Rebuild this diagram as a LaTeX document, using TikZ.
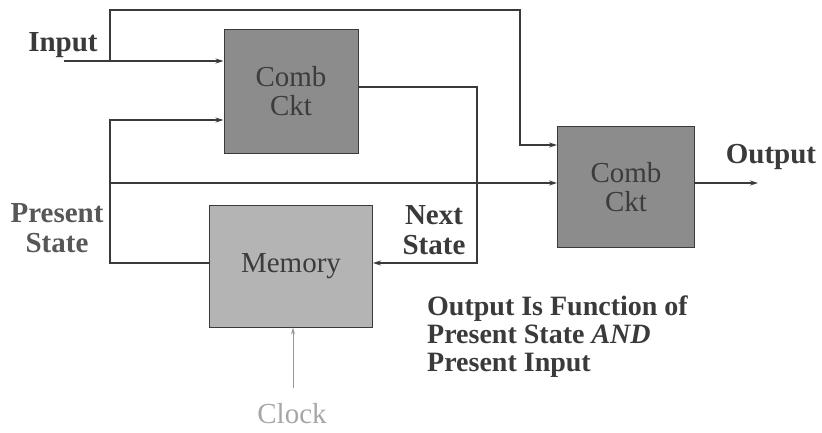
\documentclass[tikz,border=0pt]{standalone}
\usepackage{fontspec}
\setmainfont{Liberation Serif}
\usetikzlibrary{arrows.meta,positioning}

\definecolor{wirecol}{HTML}{3A3A3A}
\definecolor{darkbox}{HTML}{8C8C8C}
\definecolor{lightbox}{HTML}{B4B4B4}
\definecolor{boxtext}{HTML}{3C3C3C}

\begin{document}
\begin{tikzpicture}[
  x=1pt,y=-1pt,
  comb/.style={draw=wirecol,line width=1pt,fill=darkbox,align=center,
               text=boxtext,font=\fontsize{29}{29}\selectfont,inner sep=0pt},
  memo/.style={draw=wirecol,line width=1pt,fill=lightbox,align=center,
               text=boxtext,font=\fontsize{29}{30}\selectfont,inner sep=0pt},
  lbl/.style={align=center,text=wirecol,font=\fontsize{29}{30}\selectfont\bfseries,
              inner sep=0pt},
  arrow/.style={-{Stealth[length=8pt,width=5pt]},line width=1.2pt,draw=wirecol},
  wire/.style={line width=1.2pt,draw=wirecol}
]
\useasboundingbox (0,0) rectangle (822,432);

% blocks
\node[comb,minimum width=134pt,minimum height=124pt] (comb1) at (291,91)
 {Comb\\Ckt};
\node[comb,minimum width=137pt,minimum height=121pt] (comb2) at (626,187)
 {Comb\\Ckt};
\node[memo,minimum width=163pt,minimum height=122pt] (mem) at (291,266)
 {Memory};

% free ends of the wires
\coordinate (in) at (64,61);
\coordinate (tap) at (110,61);
\coordinate (tl) at (110,10);
\coordinate (jog) at (520,145);
\coordinate (ns) at (477,263);
\coordinate (ps) at (110,263);
\coordinate (pstop) at (110,120);
\coordinate (psmid) at (110,183);
\coordinate (out) at (758,183);
\coordinate (clkin) at (293,388);

% wires
\draw[arrow] (in) -- (in -| comb1.west);
\draw[arrow] (tap) -- (tl) -| (jog) -- (jog -| comb2.west);
\draw[arrow] (comb1.east |- 0,87) -| (ns) -- (ns -| mem.east);
\draw[arrow] (ps -| mem.west) -- (ps) -- (pstop) -- (pstop -| comb1.west);
\draw[arrow] (psmid) -- (psmid -| comb2.west);
\draw[arrow] (out -| comb2.east) -- (out);
\draw[-{Stealth[length=7pt,width=4pt]},line width=1pt,draw=gray!80]
 (clkin) -- (clkin |- mem.south);

% labels
\node[lbl] (inlbl) at (63,45) {Input};
\node[lbl] (outlbl) at (771,157) {Output};
\node[lbl] (nslbl) at (434,230) {Next\\State};
\node[lbl,text=wirecol!85] (pslbl) at (57,228) {Present\\State};
\node[lbl,text=gray!70,font=\fontsize{29}{30}\selectfont] (clk) at (292,414) {Clock};
\node[lbl,align=left,anchor=north west,font=\fontsize{28}{28}\selectfont\bfseries]
 (note) at (427,296)
 {Output Is Function of\\Present State \textit{AND}\\Present Input};
\end{tikzpicture}
\end{document}
